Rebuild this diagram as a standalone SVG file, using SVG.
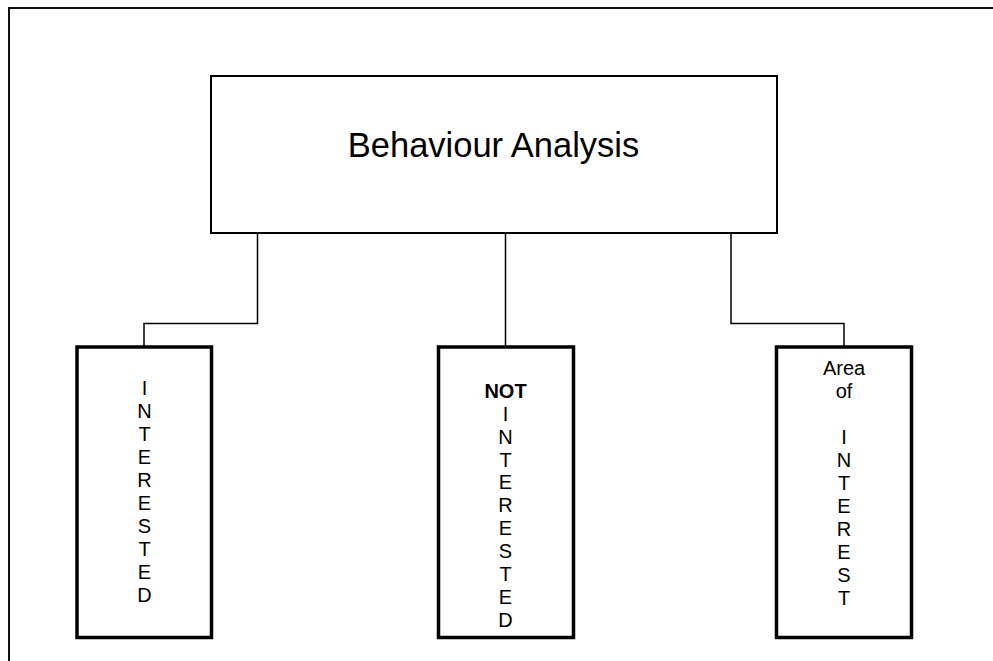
<svg xmlns="http://www.w3.org/2000/svg" width="993" height="661" viewBox="0 0 993 661">
<style>
.frame{fill:none;stroke:#111;stroke-width:2}
.main{fill:#fff;stroke:#000;stroke-width:2}
.child{fill:#fff;stroke:#000;stroke-width:3.5}
.conn{fill:none;stroke:#000;stroke-width:1.5}
text{font-family:"Liberation Sans",Arial,sans-serif;fill:#000;text-anchor:middle}
.big{font-size:34.5px}
.lbl{font-size:20px}
</style>
<rect width="993" height="661" fill="#fff"/>
<path class="frame" d="M9 670 V8 H1000"/>
<g id="connectors">
<path class="conn" d="M257.5 233 V323.5 H144 V347"/>
<path class="conn" d="M505.5 233 V347"/>
<path class="conn" d="M731 233 V323.5 H844 V347"/>
</g>
<g id="behaviour-analysis">
<rect class="main" x="211" y="76" width="566" height="157"/>
<text class="big" x="493.5" y="157">Behaviour Analysis</text>
</g>
<g id="interested">
<rect class="child" x="77" y="347" width="134.5" height="290.5"/>
<text class="lbl" x="144.5" y="395"><tspan x="144.5">I</tspan><tspan x="144.5" dy="23">N</tspan><tspan x="144.5" dy="23">T</tspan><tspan x="144.5" dy="23">E</tspan><tspan x="144.5" dy="23">R</tspan><tspan x="144.5" dy="23">E</tspan><tspan x="144.5" dy="23">S</tspan><tspan x="144.5" dy="23">T</tspan><tspan x="144.5" dy="23">E</tspan><tspan x="144.5" dy="23">D</tspan></text>
</g>
<g id="not-interested">
<rect class="child" x="438.5" y="347" width="135" height="290.5"/>
<text class="lbl" x="505.5" y="398"><tspan x="505.5" font-weight="bold">NOT</tspan><tspan x="505.5" dy="22.85">I</tspan><tspan x="505.5" dy="22.85">N</tspan><tspan x="505.5" dy="22.85">T</tspan><tspan x="505.5" dy="22.85">E</tspan><tspan x="505.5" dy="22.85">R</tspan><tspan x="505.5" dy="22.85">E</tspan><tspan x="505.5" dy="22.85">S</tspan><tspan x="505.5" dy="22.85">T</tspan><tspan x="505.5" dy="22.85">E</tspan><tspan x="505.5" dy="22.85">D</tspan></text>
</g>
<g id="area-of-interest">
<rect class="child" x="776.5" y="347" width="135" height="290.5"/>
<text class="lbl" x="844" y="375"><tspan x="844">Area</tspan><tspan x="844" dy="23">of</tspan><tspan x="844" dy="46">I</tspan><tspan x="844" dy="23">N</tspan><tspan x="844" dy="23">T</tspan><tspan x="844" dy="23">E</tspan><tspan x="844" dy="23">R</tspan><tspan x="844" dy="23">E</tspan><tspan x="844" dy="23">S</tspan><tspan x="844" dy="23">T</tspan></text>
</g>
</svg>
